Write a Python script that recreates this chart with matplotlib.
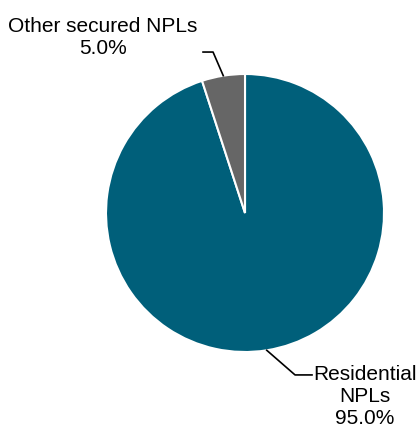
import numpy as np
import matplotlib
matplotlib.use("Agg")
import matplotlib.pyplot as plt

plt.rcParams['font.family'] = ['Liberation Sans', 'DejaVu Sans']

categories = ["Residential\nNPLs", "Other secured NPLs"]
shares = [95.0, 5.0]
colours = ["#005F7A", "#666666"]

fig = plt.figure(figsize=(4.19, 4.30), dpi=100)
# pie box in figure fractions (radius 1 in data units)
ax = fig.add_axes([0.253, 0.1814, 0.6635, 0.6465])
wedges, _ = ax.pie(shares, colors=colours, startangle=90, counterclock=False,
                   radius=1.0, wedgeprops=dict(edgecolor="white", linewidth=1.5))
ax.set_xlim(-1, 1)
ax.set_ylim(-1, 1)
ax.set_aspect("equal")
ax.axis("off")


def mid_point(w):
    ang = np.deg2rad((w.theta1 + w.theta2) / 2)
    return np.cos(ang), np.sin(ang)


# residential label, bottom right
x0, y0 = mid_point(wedges[0])
ax.plot([x0, 0.36, 0.482], [y0, -1.165, -1.165], color="black", lw=1.2,
        clip_on=False)
ax.text(0.86, -1.32, f"{categories[0]}\n{shares[0]:.1f}%", ha="center",
        va="center", fontsize=15, linespacing=1.2, clip_on=False)

# other secured label, top left
x1, y1 = mid_point(wedges[1])
ax.plot([x1, -0.23, -0.302], [y1, 1.158, 1.158], color="black", lw=1.2,
        clip_on=False)
ax.text(-1.022, 1.265, f"{categories[1]}\n{shares[1]:.1f}%", ha="center",
        va="center", fontsize=15, linespacing=1.2, clip_on=False)

fig.savefig("out.png", dpi=100)
